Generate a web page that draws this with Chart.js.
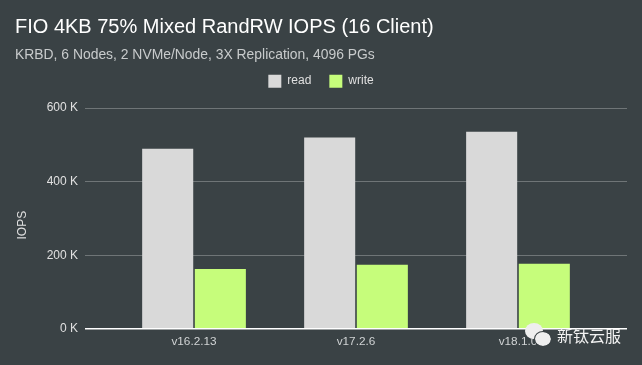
<!DOCTYPE html>
<html><head><meta charset="utf-8">
<script src="https://cdn.jsdelivr.net/npm/chart.js@4/dist/chart.umd.min.js"></script>
<style>
html,body{margin:0;padding:0;background:#3a4245;width:642px;height:365px;overflow:hidden}
#wrap{position:relative;width:642px;height:365px}
#wm{position:absolute;left:557px;top:323px;font:16px "Noto Sans CJK SC";color:#f2f2f2;line-height:24px;white-space:nowrap}
.d{position:absolute;background:#eee;border-radius:50%}
</style></head><body>
<div id="wrap"><canvas id="c" width="642" height="365"></canvas>
<div class="d" style="left:525px;top:323px;width:18px;height:16px"></div>
<div class="d" style="left:535px;top:332px;width:16px;height:14px;outline:1px solid #3a4245"></div>
<div id="wm">新钛云服</div></div>
<script>
const versions = ['v16.2.13','v17.2.6','v18.1.0'];
const readIops = [490,520,536];
const writeIops = [163,174,177];
const yTicks = [0,200,400,600];
const toPoints = a => a.map((y,x)=>({x,y}));
const font = {family:'"Liberation Sans", Arial, sans-serif'};
const legendGap = {id:'legendGap',beforeLayout(chart){
  const lg = chart.legend;
  if(!lg._gapPatched){const fit = lg.fit; lg.fit = function(){fit.call(this); this.height += 10.5;}; lg._gapPatched = true;}
}};
new Chart(document.getElementById('c'),{
  type:'bar',
  plugins:[legendGap],
  data:{datasets:[
    {label:'read',data:toPoints(readIops),backgroundColor:'#d9d9d9',categoryPercentage:0.65,barPercentage:0.97},
    {label:'write',data:toPoints(writeIops),backgroundColor:'#c6fd7b',categoryPercentage:0.65,barPercentage:0.97}
  ]},
  options:{
    responsive:false,animation:false,
    layout:{padding:{left:15,right:15,top:15,bottom:10}},
    plugins:{
      title:{display:true,text:'FIO 4KB 75% Mixed RandRW IOPS (16 Client)',align:'start',color:'#ffffff',
        font:{...font,size:20,weight:'normal'},padding:{top:0,bottom:8}},
      subtitle:{display:true,text:'KRBD, 6 Nodes, 2 NVMe/Node, 3X Replication, 4096 PGs',align:'start',color:'#c8cbcc',
        font:{...font,size:13.9,weight:'normal'},padding:{top:0,bottom:-7}},
      legend:{position:'top',align:'center',labels:{color:'#e0e0e0',boxWidth:13,boxHeight:13,padding:18,font:{...font,size:12}}},
      tooltip:{enabled:false}
    },
    scales:{
      x:{type:'linear',min:-0.673,max:2.673,offset:false,
        afterBuildTicks(s){s.ticks=versions.map((_,i)=>({value:i}));},
        ticks:{color:'#d0d3d4',font:{...font,size:11.8},padding:6,maxRotation:0,callback:v=>versions[v]},
        grid:{display:false,drawTicks:false},border:{display:false}},
      y:{min:0,max:600,
        afterBuildTicks(s){s.ticks=yTicks.map(value=>({value}));},
        afterFit(s){s.width=70;},
        title:{display:true,text:'IOPS    ',color:'#e0e0e0',font:{...font,size:12},padding:0},
        ticks:{color:'#e0e0e0',font:{...font,size:12},padding:7,callback:v=>v+' K'},
        grid:{color:c=>c.tick.value===0?'#ffffff':'#6f7577',lineWidth:c=>c.tick.value===0?1.5:1,drawTicks:false},
        border:{display:false}}
    }
  }
});
</script></body></html>
